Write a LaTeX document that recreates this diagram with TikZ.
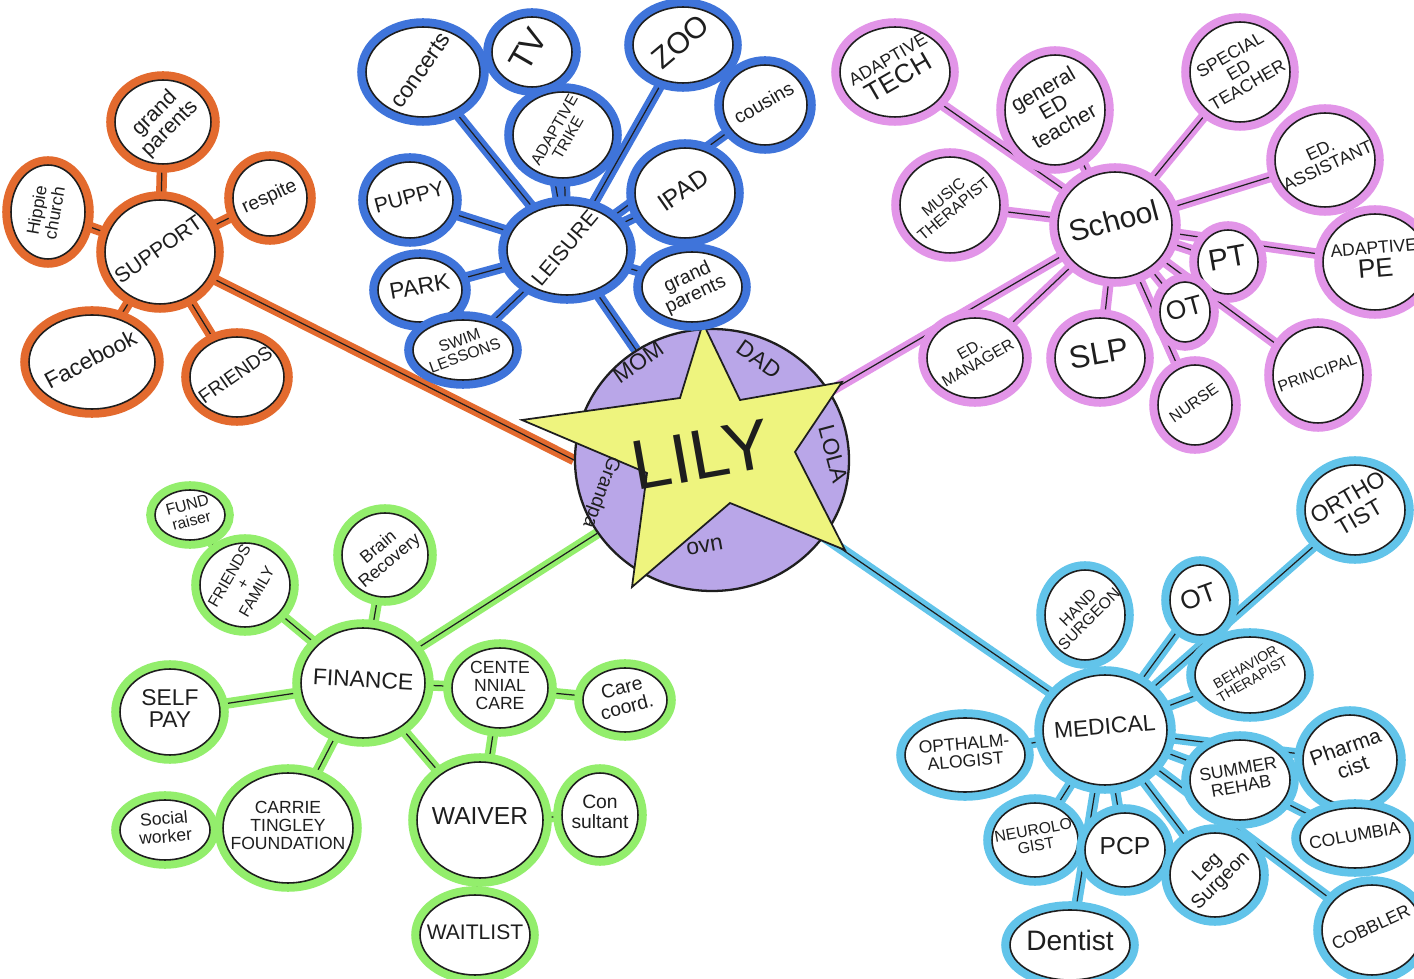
\documentclass[tikz,border=0pt]{standalone}
\usepackage{fontspec}
\setmainfont{Liberation Sans}
\usetikzlibrary{shapes.geometric,backgrounds}
\definecolor{corange}{HTML}{E36A2E}
\definecolor{cblue}{HTML}{3F74DA}
\definecolor{cpink}{HTML}{E295E8}
\definecolor{cgreen}{HTML}{93EE6C}
\definecolor{clblue}{HTML}{62C4EA}
\definecolor{cpurple}{HTML}{B9A6E8}
\definecolor{cyellow}{HTML}{EEF47E}
\definecolor{ink}{HTML}{1E1E1E}
\newcommand\rtx[2]{\rotatebox[origin=c]{#1}{\begin{tabular}{@{}c@{}}#2\end{tabular}}}
\tikzset{
  bub/.style={ellipse, draw=ink, line width=0.9pt, fill=white, inner sep=0pt,
    preaction={draw=#1, line width=10pt}},
  e/.style 2 args={minimum width=#1*0.04cm, minimum height=#2*0.04cm},
  fsz/.style={font=\fontsize{#1}{#1}\selectfont},
  lab/.style={text=ink, inner sep=0pt},
  conn/.style={line width=0.7pt, draw=ink, preaction={draw=#1, line width=6pt}},
}
% \bn{name}{x,y}{colour}{rx}{ry}{font size}{rotation}{text}
\newcommand\bn[8]{%
  \node[bub=#3, e={#4}{#5}] (#1) at (#2) {};
  \node[lab, fsz=#6] (#1-t) at (#1) {\rtx{#7}{#8}};}
\begin{document}
\begin{tikzpicture}[x=0.02cm,y=-0.02cm]
\useasboundingbox (0,0) rectangle (1414,979);

% centre
\node[ellipse, draw=ink, fill=cpurple, line width=1.3pt, minimum width=274*0.02cm, minimum height=262*0.02cm] (lily) at (712,460) {};
\draw[fill=cyellow, draw=ink, line width=1pt] (703,323) -- (740,400) -- (842,382) -- (795,452) -- (845,550) -- (730,503) -- (632,587) -- (647,473) -- (522,420) -- (680,398) -- cycle;
\node[lab, fsz=40] (lilyt) at (703,465) {\rtx{10}{LILY}};
\node[lab, fsz=13] (mom) at (640,365) {\rtx{35}{MOM}};
\node[lab, fsz=13] (dad) at (757,362) {\rtx{-35}{DAD}};
\node[lab, fsz=13] (lola) at (830,455) {\rtx{-75}{LOLA}};
\node[lab, fsz=11] (gpa) at (600,492) {\rtx{-110}{Grandpa}};
\node[lab, fsz=13] (ovn) at (705,548) {\rtx{10}{ovn}};

% SUPPORT
\bn{support}{160,252}{corange}{55}{52}{12}{35}{SUPPORT}
\bn{sgp}{163,122}{corange}{48}{42}{12}{45}{grand\\parents}
\bn{hippie}{48,212}{corange}{37}{47}{10}{80}{Hippie\\church}
\bn{respite}{270,198}{corange}{37}{38}{11}{25}{respite}
\bn{facebook}{92,362}{corange}{63}{47}{13}{28}{Facebook}
\bn{sfriends}{237,377}{corange}{47}{40}{11}{35}{FRIENDS}

% LEISURE
\bn{leisure}{567,250}{cblue}{60}{45}{12}{50}{LEISURE}
\bn{concerts}{423,72}{cblue}{57}{45}{13}{55}{concerts}
\bn{tv}{532,52}{cblue}{40}{35}{19}{60}{TV}
\bn{trike}{563,135}{cblue}{50}{43}{9}{60}{ADAPTIVE\\TRIKE}
\bn{zoo}{683,45}{cblue}{50}{38}{17}{40}{ZOO}
\bn{cousins}{765,105}{cblue}{42}{40}{11}{30}{cousins}
\bn{ipad}{685,193}{cblue}{50}{45}{14}{35}{IPAD}
\bn{lgp}{692,287}{cblue}{50}{35}{11}{25}{grand\\parents}
\bn{puppy}{410,200}{cblue}{43}{38}{12}{15}{PUPPY}
\bn{park}{420,290}{cblue}{42}{32}{13}{10}{PARK}
\bn{swim}{463,350}{cblue}{50}{30}{9}{20}{SWIM\\LESSONS}

% SCHOOL
\bn{school}{1115,225}{cpink}{57}{53}{17}{15}{School}
\bn{atech}{895,72}{cpink}{55}{45}{10}{30}{ADAPTIVE\\{\fontsize{15}{15}\selectfont TECH}}
\bn{gened}{1055,110}{cpink}{50}{55}{12}{30}{general\\ED\\teacher}
\bn{speced}{1240,72}{cpink}{50}{50}{10}{30}{SPECIAL\\ED\\TEACHER}
\bn{edasst}{1325,160}{cpink}{50}{47}{10}{25}{ED.\\ASSISTANT}
\bn{ape}{1375,262}{cpink}{52}{48}{10}{5}{ADAPTIVE\\{\fontsize{15}{15}\selectfont PE}}
\bn{music}{950,205}{cpink}{50}{48}{9}{40}{MUSIC\\THERAPIST}
\bn{pt}{1228,262}{cpink}{30}{32}{17}{10}{PT}
\bn{ot}{1185,312}{cpink}{25}{30}{15}{15}{OT}
\bn{edman}{975,358}{cpink}{48}{40}{9}{30}{ED.\\MANAGER}
\bn{slp}{1100,358}{cpink}{45}{40}{18}{10}{SLP}
\bn{nurse}{1195,405}{cpink}{37}{40}{9}{35}{NURSE}
\bn{principal}{1318,375}{cpink}{45}{48}{9}{20}{PRINCIPAL}

% FINANCE
\bn{finance}{363,683}{cgreen}{62}{55}{13}{-3}{FINANCE}
\bn{fund}{190,515}{cgreen}{35}{25}{9}{15}{FUND\\raiser}
\bn{friendsfam}{245,585}{cgreen}{45}{42}{9}{60}{FRIENDS\\+\\FAMILY}
\bn{brain}{385,555}{cgreen}{43}{42}{10}{40}{Brain\\Recovery}
\bn{selfpay}{170,712}{cgreen}{50}{43}{13}{0}{SELF\\PAY}
\bn{centennial}{500,688}{cgreen}{48}{40}{10}{0}{CENTE\\NNIAL\\CARE}
\bn{carecoord}{625,700}{cgreen}{42}{32}{11}{15}{Care\\coord.}
\bn{waiver}{480,820}{cgreen}{63}{58}{14}{0}{WAIVER}
\bn{consultant}{600,815}{cgreen}{38}{42}{11}{0}{Con\\sultant}
\bn{waitlist}{475,935}{cgreen}{55}{40}{12}{0}{WAITLIST}
\bn{carrie}{288,828}{cgreen}{65}{55}{10}{0}{CARRIE\\TINGLEY\\FOUNDATION}
\bn{social}{165,830}{cgreen}{45}{30}{10}{5}{Social\\worker}

% MEDICAL
\bn{medical}{1105,730}{clblue}{62}{55}{13}{5}{MEDICAL}
\bn{ortho}{1355,510}{clblue}{50}{45}{13}{30}{ORTHO\\TIST}
\bn{mot}{1200,600}{clblue}{30}{35}{15}{20}{OT}
\bn{hand}{1085,615}{clblue}{40}{45}{9}{45}{HAND\\SURGEON}
\bn{behavior}{1250,675}{clblue}{55}{38}{8}{30}{BEHAVIOR\\THERAPIST}
\bn{opth}{965,755}{clblue}{60}{37}{10}{5}{OPTHALM-\\ALOGIST}
\bn{pharma}{1350,760}{clblue}{47}{45}{12}{20}{Pharma\\cist}
\bn{summer}{1240,780}{clblue}{50}{40}{10}{10}{SUMMER\\REHAB}
\bn{columbia}{1355,838}{clblue}{55}{30}{10}{10}{COLUMBIA}
\bn{neuro}{1035,840}{clblue}{43}{37}{9}{10}{NEUROLO\\GIST}
\bn{pcp}{1125,850}{clblue}{40}{37}{14}{0}{PCP}
\bn{leg}{1215,875}{clblue}{45}{42}{11}{45}{Leg\\Surgeon}
\bn{cobbler}{1372,930}{clblue}{50}{45}{10}{25}{COBBLER}
\bn{dentist}{1070,945}{clblue}{60}{35}{16}{0}{Dentist}

\begin{scope}[on background layer]
\fill[white] (0,0) rectangle (1414,979);
\draw[conn=corange] (support) -- (lily.west);
\foreach \n in {sgp,hippie,respite,facebook,sfriends}
  \draw[conn=corange] (support) -- (\n);
\foreach \n in {lily,concerts,tv,trike,zoo,cousins,ipad,lgp,puppy,park,swim}
  \draw[conn=cblue] (leisure) -- (\n);
\foreach \n in {lily,atech,gened,speced,edasst,ape,music,pt,ot,edman,slp,nurse,principal}
  \draw[conn=cpink] (school) -- (\n);
\foreach \n in {lily,friendsfam,brain,selfpay,centennial,waiver,carrie}
  \draw[conn=cgreen] (finance) -- (\n);
\draw[conn=cgreen] (friendsfam) -- (fund);
\draw[conn=cgreen] (centennial) -- (carecoord);
\draw[conn=cgreen] (centennial) -- (waiver);
\draw[conn=cgreen] (waiver) -- (consultant);
\draw[conn=cgreen] (waiver) -- (waitlist);
\draw[conn=cgreen] (carrie) -- (social);
\foreach \n in {lily,ortho,mot,hand,behavior,opth,pharma,summer,cobbler,leg,pcp,neuro,dentist}
  \draw[conn=clblue] (medical) -- (\n);
\draw[conn=clblue] (summer) -- (columbia);
\end{scope}
\end{tikzpicture}
\end{document}
